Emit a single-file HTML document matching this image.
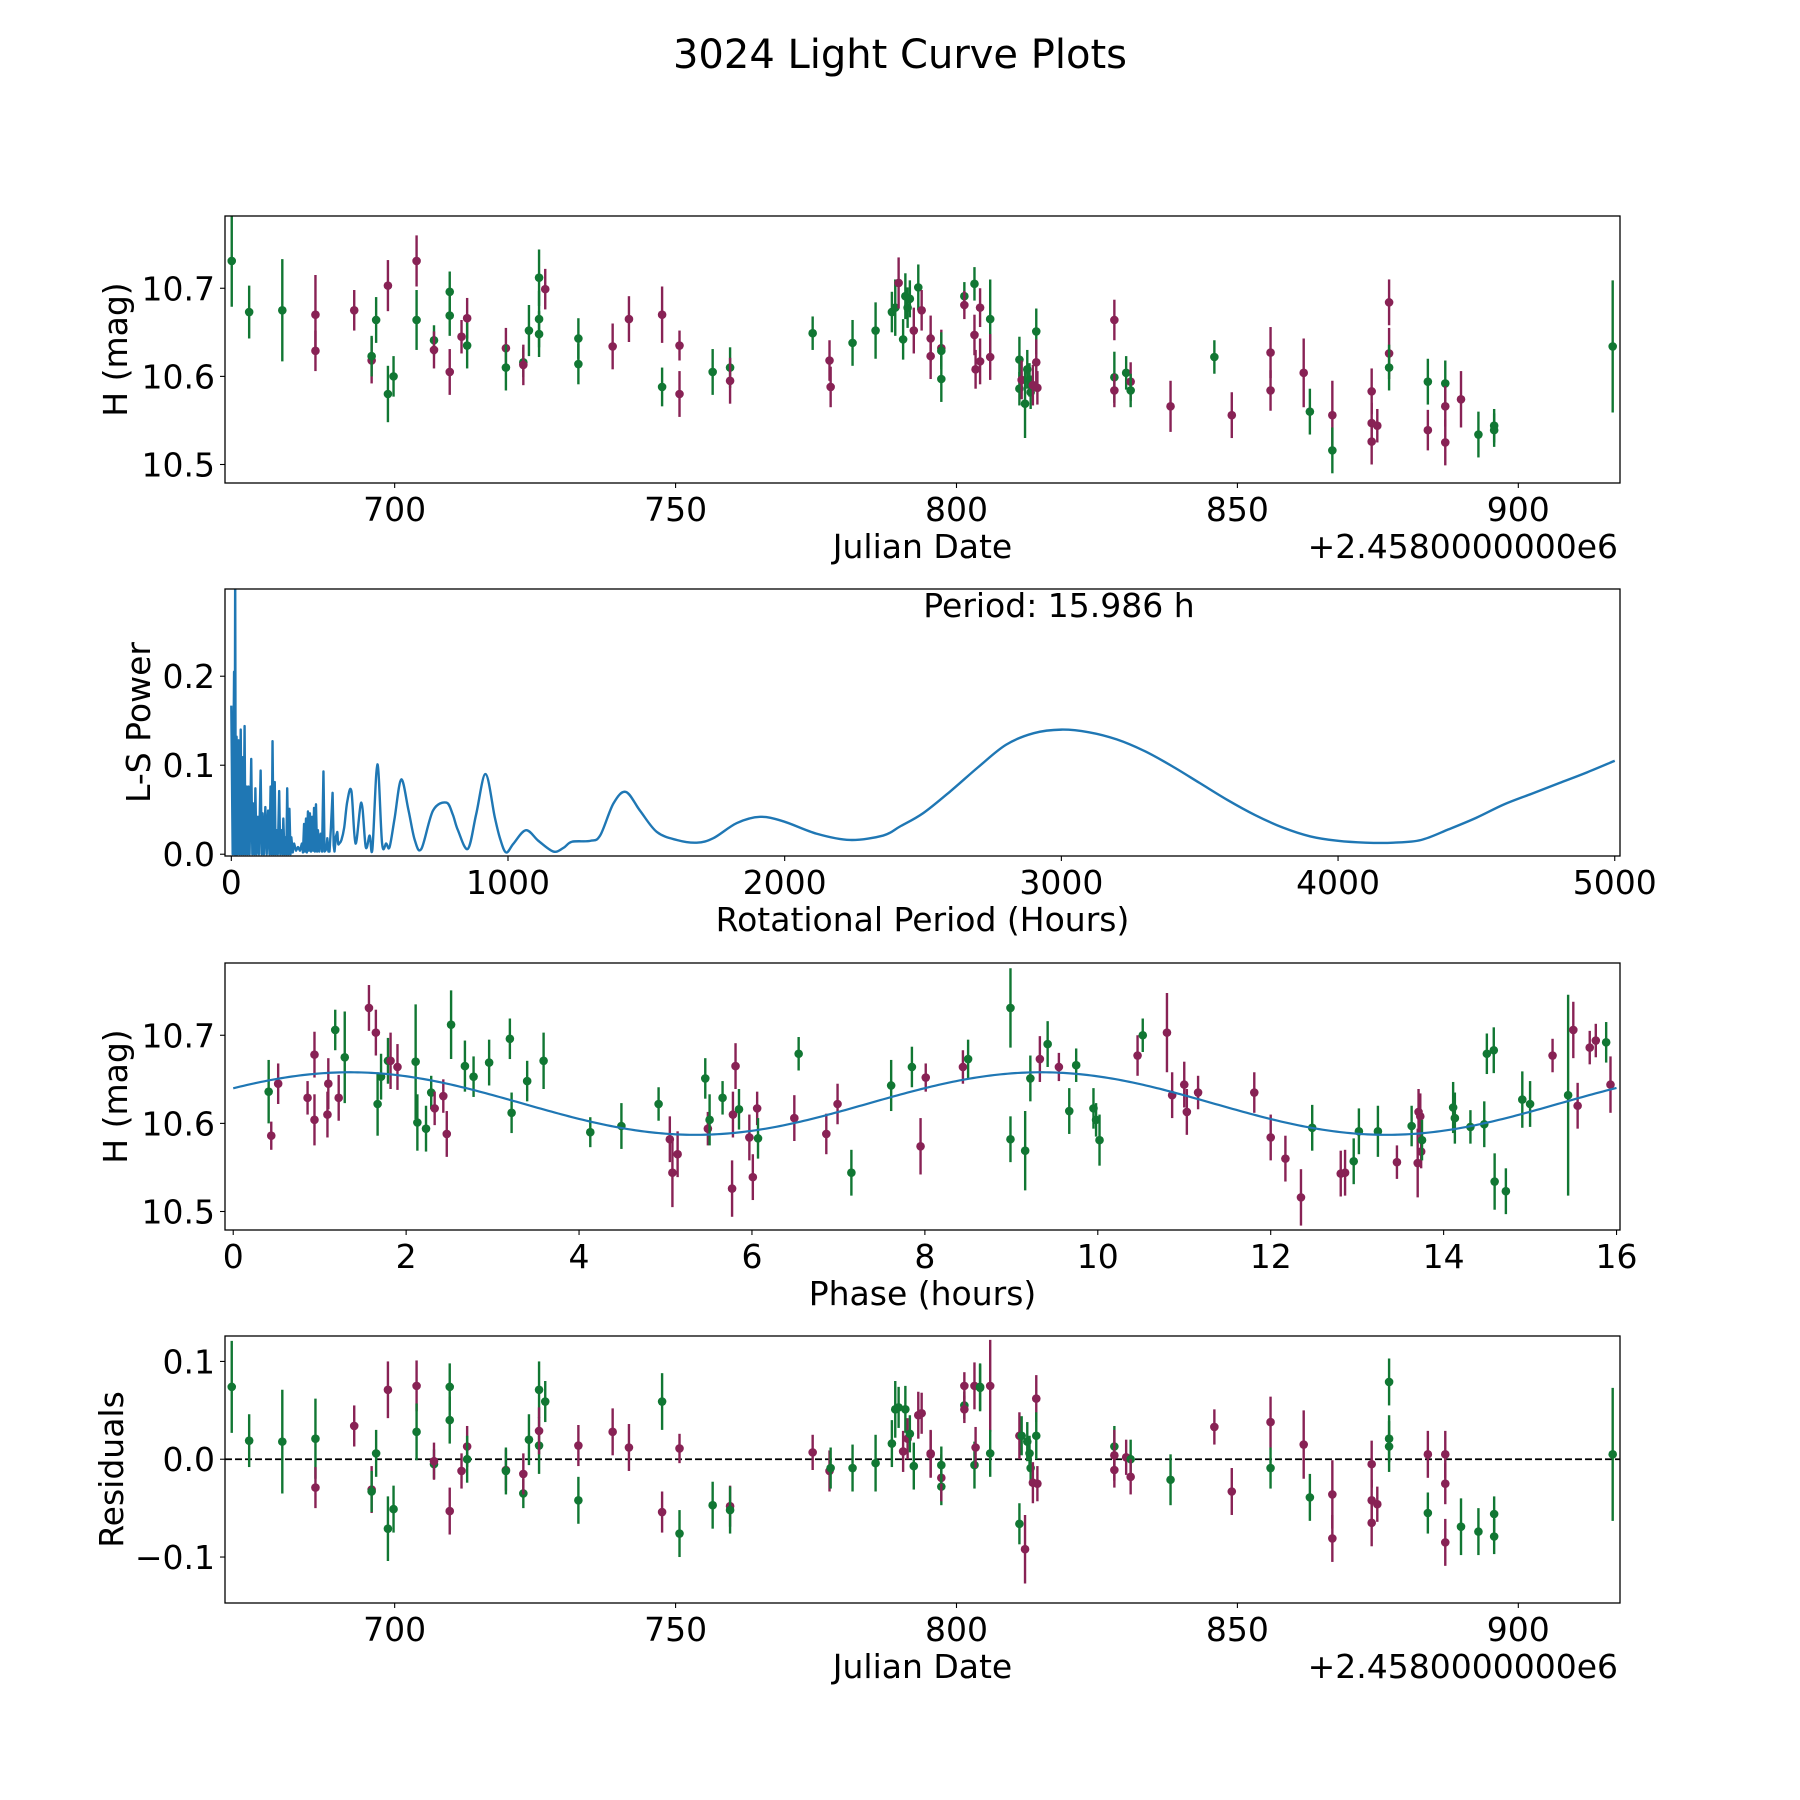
<!DOCTYPE html>
<html><head><meta charset="utf-8">
<style>
html,body{margin:0;padding:0;background:#fff;}
svg{display:block;font-family:"DejaVu Sans","Liberation Sans",sans-serif;}
</style></head>
<body>
<svg id="fig" width="1800" height="1800" viewBox="0 0 1800 1800" xmlns="http://www.w3.org/2000/svg">
<rect x="0" y="0" width="1800" height="1800" fill="#fff"/>
<text x="900" y="68" font-size="40" text-anchor="middle" fill="#000">3024 Light Curve Plots</text>
</svg>
<script>
// ---------- Panel 1: light curve ----------
const lcDates=[671.0,674.1,680.0,685.9,685.9,692.8,695.9,695.9,696.7,698.8,698.8,699.8,703.9,703.9,707.0,707.0,709.8,709.8,709.8,711.9,712.9,712.9,719.8,719.8,722.9,722.9,723.9,725.7,725.7,725.7,726.8,732.7,732.7,738.8,741.7,747.6,747.6,750.7,750.7,756.6,759.7,759.7,774.4,777.4,777.6,781.5,785.6,788.5,789.1,789.7,790.5,790.9,791.3,791.7,792.4,793.2,793.8,795.4,795.4,797.3,797.3,797.3,801.4,801.4,803.2,803.2,803.4,804.2,804.2,806.0,806.0,811.2,811.2,811.6,812.2,812.6,813.0,813.2,813.6,814.2,814.2,814.4,828.1,828.1,828.1,830.2,831.0,831.0,838.1,845.9,849.0,855.9,855.9,861.8,862.9,866.9,866.9,873.9,873.9,873.9,874.9,877.0,877.0,877.0,883.9,883.9,887.0,887.0,887.0,889.8,892.9,895.7,895.7,916.8];
const lcMags=[10.731,10.673,10.675,10.670,10.629,10.675,10.618,10.623,10.664,10.703,10.580,10.600,10.731,10.664,10.641,10.630,10.696,10.669,10.605,10.645,10.666,10.635,10.632,10.610,10.616,10.613,10.652,10.712,10.665,10.648,10.699,10.614,10.643,10.634,10.665,10.670,10.588,10.635,10.580,10.605,10.610,10.595,10.649,10.618,10.588,10.638,10.652,10.673,10.678,10.706,10.642,10.691,10.678,10.688,10.652,10.701,10.675,10.643,10.623,10.632,10.597,10.629,10.691,10.681,10.705,10.647,10.608,10.678,10.617,10.665,10.622,10.619,10.586,10.596,10.569,10.608,10.596,10.582,10.590,10.651,10.616,10.587,10.664,10.599,10.584,10.604,10.594,10.584,10.566,10.622,10.556,10.627,10.584,10.604,10.560,10.556,10.516,10.583,10.526,10.547,10.544,10.684,10.626,10.610,10.594,10.539,10.592,10.566,10.525,10.574,10.534,10.544,10.539,10.634];
const lcErrs=[.052,.030,.058,.045,.023,.023,.026,.023,.026,.029,.032,.023,.029,.034,.017,.021,.023,.023,.026,.019,.023,.026,.023,.026,.017,.023,.029,.032,.032,.026,.023,.023,.023,.026,.026,.032,.022,.017,.026,.026,.023,.026,.019,.023,.023,.026,.032,.023,.032,.029,.023,.026,.023,.021,.026,.026,.023,.026,.026,.021,.026,.021,.016,.016,.019,.023,.022,.022,.026,.045,.026,.026,.019,.022,.039,.022,.019,.019,.023,.026,.026,.019,.023,.029,.019,.019,.022,.019,.029,.019,.026,.029,.023,.039,.026,.039,.026,.026,.026,.023,.019,.026,.029,.026,.026,.023,.026,.023,.026,.032,.026,.019,.019,.075];
const lcBands="gggmmmmggmggmggmggmmmgmggmggggmggmmmgmmggmgmmggggmggggmgmmmmgggmgmmmmgmggmggggmgmmmgmgmgmgmmmmgmgmmmmmmggmgmmmgggggmg";
// ---------- Panel 2: periodogram ----------
const lsPeriods=[0,5,10,12,14,16,19,22,26,30,34,37,41,44,48,51,55,58,62,66,72,76,80,84,87,91,96,100,106,110,113,118,123,128,133,138,142,146,149,153,157,160,164,168,173,177,181,185,188,192,195,199,202,206,210,214,217,222,227,234,241,248,255,259,263,266,270,273,277,280,284,288,292,296,299,302,306,310,313,318,323,328,333,337,340,344,347,351,355,360,366,370,373,378,383,386,390,398,408,419,434,449,470,486,500,510,528,545,560,572,590,614,640,663,687,729,777,800,819,855,885,919,952,971,993,1020,1065,1110,1164,1200,1231,1297,1333,1381,1426,1477,1538,1610,1682,1742,1827,1911,1995,2116,2236,2356,2416,2500,2600,2700,2800,2900,3000,3100,3200,3300,3400,3500,3600,3700,3800,3900,4000,4100,4200,4300,4400,4500,4600,4700,4800,4900,5000];
const lsPowers=[0.167,0.0,0.205,0.0,0.32,0.0,0.132,0.0,0.128,0.0,0.140,0.0,0.109,0.0,0.144,0.0,0.076,0.0,0.076,0.0,0.107,0.0,0.057,0.0,0.074,0.0,0.042,0.0,0.094,0.0,0.046,0.0,0.053,0.0,0.049,0.0,0.076,0.0,0.127,0.0,0.081,0.0,0.027,0.0,0.071,0.0,0.027,0.0,0.040,0.0,0.019,0.0,0.074,0.0,0.051,0.0,0.019,0.002,0.012,0.004,0.008,0.004,0.012,0.002,0.034,0.003,0.040,0.002,0.048,0.004,0.046,0.003,0.042,0.004,0.052,0.003,0.056,0.003,0.027,0.003,0.023,0.003,0.093,0.003,0.004,0.006,0.018,0.003,0.003,0.03,0.069,0.01,0.003,0.02,0.025,0.012,0.012,0.016,0.03,0.059,0.071,0.012,0.058,0.008,0.021,0.006,0.101,0.012,0.012,0.008,0.04,0.084,0.05,0.016,0.006,0.049,0.058,0.045,0.027,0.006,0.045,0.090,0.042,0.018,0.002,0.012,0.027,0.015,0.003,0.007,0.014,0.015,0.021,0.057,0.070,0.049,0.025,0.016,0.013,0.018,0.035,0.042,0.037,0.023,0.016,0.021,0.031,0.046,0.071,0.098,0.123,0.136,0.140,0.137,0.129,0.116,0.099,0.080,0.061,0.044,0.030,0.020,0.015,0.013,0.013,0.016,0.028,0.041,0.056,0.068,0.080,0.092,0.105];
const periodText="Period: 15.986 h";
// ---------- Panel 3: phased light curve ----------
const phHours=[0.41,0.44,0.52,0.86,0.94,0.94,1.09,1.10,1.18,1.22,1.29,1.57,1.65,1.67,1.71,1.79,1.82,1.90,2.11,2.13,2.23,2.29,2.33,2.43,2.47,2.52,2.68,2.78,2.96,3.20,3.22,3.40,3.59,4.13,4.49,4.92,5.05,5.08,5.14,5.46,5.49,5.51,5.66,5.77,5.78,5.81,5.85,5.97,6.01,6.06,6.07,6.49,6.54,6.86,6.99,7.15,7.61,7.85,7.95,8.01,8.44,8.50,8.99,8.99,9.16,9.22,9.33,9.42,9.55,9.67,9.75,9.95,9.98,10.02,10.46,10.52,10.80,10.86,11.00,11.03,11.16,11.81,12.00,12.17,12.35,12.48,12.81,12.86,12.96,13.02,13.24,13.46,13.63,13.70,13.71,13.73,13.74,13.75,14.11,14.13,14.31,14.47,14.50,14.58,14.59,14.72,14.91,15.00,15.26,15.44,15.50,15.55,15.69,15.76,15.88,15.93];
const phMags=[10.636,10.586,10.645,10.629,10.678,10.604,10.610,10.645,10.706,10.629,10.675,10.731,10.703,10.622,10.653,10.671,10.671,10.664,10.670,10.601,10.594,10.635,10.617,10.631,10.588,10.712,10.665,10.653,10.669,10.696,10.612,10.648,10.671,10.590,10.597,10.622,10.582,10.544,10.565,10.651,10.594,10.604,10.629,10.526,10.610,10.665,10.616,10.584,10.539,10.617,10.583,10.606,10.679,10.588,10.622,10.544,10.643,10.664,10.574,10.652,10.664,10.673,10.731,10.582,10.569,10.651,10.673,10.690,10.664,10.614,10.666,10.617,10.604,10.581,10.677,10.700,10.703,10.632,10.644,10.613,10.635,10.635,10.584,10.560,10.516,10.595,10.543,10.544,10.557,10.591,10.591,10.556,10.597,10.555,10.613,10.608,10.568,10.581,10.618,10.606,10.596,10.599,10.679,10.683,10.534,10.523,10.627,10.622,10.677,10.632,10.706,10.620,10.686,10.694,10.692,10.644];
const phErrs=[.036,.016,.023,.019,.026,.029,.026,.029,.023,.026,.052,.026,.026,.036,.026,.026,.032,.026,.065,.032,.026,.019,.019,.019,.026,.039,.029,.023,.026,.023,.023,.023,.032,.017,.026,.019,.026,.039,.026,.023,.019,.029,.019,.032,.026,.026,.023,.026,.026,.019,.023,.026,.019,.023,.023,.026,.029,.023,.032,.016,.019,.022,.045,.026,.045,.026,.026,.026,.016,.026,.019,.023,.019,.029,.023,.019,.045,.026,.026,.026,.019,.023,.026,.026,.032,.026,.026,.026,.026,.026,.029,.019,.023,.039,.026,.026,.019,.023,.029,.029,.019,.026,.023,.026,.032,.026,.032,.026,.019,.114,.032,.026,.019,.019,.023,.032];
const phBands="gmmmmmmmgmgmmgggmmggggmmmgggggggggggmmmgmggmmmgmmmgmgmmgggmmmgggggmgmgggggmgmmmmmmmmmgmmgggmgmmmmgggggggggggmgmmmmgm";
const fitMean=[10.6225];
const fitAmp=[0.0355];
const fitPeak=[1.35];
const fitPeriod=[7.993];
// ---------- Panel 4: residuals ----------
const resDates=[671.0,674.1,680.0,685.9,685.9,692.8,695.9,695.9,696.7,698.8,698.8,699.8,703.9,703.9,707.0,707.0,709.8,709.8,709.8,711.9,712.9,712.9,719.8,719.8,722.9,722.9,723.9,725.7,725.7,725.7,726.8,732.7,732.7,738.8,741.7,747.6,747.6,750.7,750.7,756.6,759.7,759.7,774.4,777.4,777.6,781.5,785.6,788.5,789.1,789.7,790.5,790.9,791.3,791.7,792.4,793.2,793.8,795.4,795.4,797.3,797.3,797.3,801.4,801.4,801.4,803.2,803.2,803.4,804.2,804.2,806.0,806.0,811.2,811.2,811.6,812.2,812.6,813.0,813.2,813.6,814.2,814.2,814.4,828.1,828.1,828.1,830.2,831.0,831.0,838.1,845.9,849.0,855.9,855.9,861.8,862.9,866.9,866.9,873.9,873.9,873.9,874.9,877.0,877.0,877.0,883.9,883.9,887.0,887.0,887.0,889.8,892.9,895.7,895.7,916.8];
const resVals=[.074,.019,.018,.021,-.029,.034,-.031,-.033,.006,.071,-.071,-.051,.075,.028,-.005,-.002,.074,.040,-.053,-.012,.013,0,-.011,-.012,-.035,-.015,.020,.071,.014,.029,.059,-.042,.014,.028,.012,.059,-.054,.011,-.076,-.047,-.048,-.052,.007,-.012,-.009,-.009,-.004,.016,.051,.053,.008,.051,.021,.026,-.007,.045,.047,.005,.006,-.028,-.019,-.006,.055,.051,.075,.075,-.006,.012,.074,.073,.075,.006,.024,-.066,.024,-.092,.018,.006,-.009,-.024,.062,.024,-.025,.013,.004,-.011,.002,0,-.018,-.021,.033,-.033,.038,-.009,.015,-.039,-.036,-.081,-.005,-.065,-.042,-.046,.079,.013,.021,.005,-.055,.005,-.025,-.085,-.069,-.074,-.079,-.056,.005];
const resErrs=[.047,.027,.053,.041,.021,.021,.024,.021,.024,.029,.033,.024,.026,.029,.015,.019,.024,.024,.024,.018,.021,.024,.021,.024,.015,.021,.026,.029,.029,.024,.021,.024,.021,.024,.024,.029,.021,.015,.024,.024,.021,.024,.018,.021,.021,.024,.029,.024,.029,.021,.021,.024,.021,.019,.024,.024,.021,.024,.024,.019,.024,.019,.014,.014,.014,.024,.024,.021,.024,.024,.047,.024,.024,.021,.020,.035,.020,.018,.018,.021,.024,.024,.018,.021,.026,.018,.018,.020,.018,.026,.018,.024,.026,.021,.035,.024,.035,.024,.024,.024,.021,.018,.024,.026,.024,.024,.021,.024,.021,.024,.029,.024,.018,.018,.068];
const resBands="ggggmmmggmggmggmggmmmgmggmgggmggmmmgmmggmgmmggggggmgmggmmmmgmggmmmgmggmgmggmgggmmgmgmmmgmgmmmgmgmmmmmmgggmgmmmgggggmg";
// ---------- Tick labels ----------
const dateTicks=[700,750,800,850,900];
const magTicks=[10.5,10.6,10.7];
const lsXTicks=[0,1000,2000,3000,4000,5000];
const lsYTicks=[0,0.1,0.2];
const phXTicks=[0,2,4,6,8,10,12,14,16];
const resTicks=[-0.1,0,0.1];

const NS="http://www.w3.org/2000/svg";
const svg=document.getElementById('fig');
const COL={g:'#117733',m:'#882255'};
const FS=33;
function mk(tag,attrs,parent){const e=document.createElementNS(NS,tag);for(const k in attrs)e.setAttribute(k,attrs[k]);(parent||svg).appendChild(e);return e;}
function scale(d0,d1,p0,p1){return v=>p0+(v-d0)/(d1-d0)*(p1-p0);}
const L=225,R=1620,H=267;
const tops=[216,589,963,1336];
function fmt(v,dec){let s=v.toFixed(dec);if(v<0)s='\u2212'+s.slice(1);return s;}

function panel(idx,name,xd,yd,xt,yt,xdec,ydec,xlabel,ylabel,ylabX,offset){
  const top=tops[idx],bot=top+H;
  const g=mk('g',{});
  
  
  const sx=scale(xd[0],xd[1],L,R), sy=scale(yd[0],yd[1],bot,top);
  const tg=mk('g',{},g);
  
  
  xt.forEach(v=>{const x=sx(v);
    const l=mk('line',{x1:x,x2:x,y1:bot,y2:bot+5,stroke:'#000','stroke-width':1.1},tg);
    
    
    const t=mk('text',{x:x,y:bot+38,'font-size':FS,'text-anchor':'middle'},tg);t.textContent=fmt(v,xdec);
    
    
  });
  yt.forEach(v=>{const y=sy(v);
    const l=mk('line',{x1:L-5,x2:L,y1:y,y2:y,stroke:'#000','stroke-width':1.1},tg);
    
    
    const t=mk('text',{x:L-10,y:y+12,'font-size':FS,'text-anchor':'end'},tg);t.textContent=fmt(v,ydec);
    
    
  });
  const xl=mk('text',{x:(L+R)/2,y:bot+75,'font-size':FS,'text-anchor':'middle'},g);xl.textContent=xlabel;
  
  
  const cy=(top+bot)/2;
  const yl=mk('text',{x:ylabX,y:cy,'font-size':FS,'text-anchor':'middle',transform:`rotate(-90 ${ylabX} ${cy})`},g);yl.textContent=ylabel;
  
  
  if(offset){const o=mk('text',{x:R-2,y:bot+75,'font-size':FS,'text-anchor':'end'},g);o.textContent=offset;
    
    }
  const cid='clip'+idx;
  const cp=mk('clipPath',{id:cid},g);mk('rect',{x:L,y:top,width:R-L,height:H},cp);
  const plot=mk('g',{'clip-path':`url(#${cid})`},g);
  
  
  const frame=mk('rect',{x:L,y:top,width:R-L,height:H,fill:'none',stroke:'#000','stroke-width':1.3},g);
  
  
  return {sx,sy,plot,frame,g};
}
function errPoints(P,xs,ys,es,bands,nm){
  const n=Math.min(xs.length,ys.length,es.length,bands.length);
  for(let i=0;i<n;i++){
    const c=COL[bands[i]]||COL.g;const x=P.sx(xs[i]);
    const b=mk('line',{x1:x,x2:x,y1:P.sy(ys[i]-es[i]),y2:P.sy(ys[i]+es[i]),stroke:c,'stroke-width':2.4},P.plot);
    
    
    const d=mk('circle',{cx:x,cy:P.sy(ys[i]),r:4.3,fill:c},P.plot);
    
    
  }
}
// Panel 1
const P1=panel(0,'light-curve-panel',[669.8,918.1],[10.479,10.782],dateTicks,magTicks,0,1,'Julian Date','H (mag)',127,'+2.4580000000e6');
errPoints(P1,lcDates,lcMags,lcErrs,lcBands,'light-curve');
// Panel 2
const P2=panel(1,'periodogram-panel',[-22.8,5019],[-0.002,0.298],lsXTicks,lsYTicks,0,1,'Rotational Period (Hours)','L-S Power',150,null);
{const n=Math.min(lsPeriods.length,lsPowers.length);
 const pts=[];for(let i=0;i<n;i++)pts.push([P2.sx(lsPeriods[i]),P2.sy(lsPowers[i]),lsPeriods[i]]);
 let d='M'+pts[0][0].toFixed(2)+' '+pts[0][1].toFixed(2);
 for(let i=1;i<n;i++){
   const p1=pts[i-1],p2=pts[i];
   if(p1[2]<380){d+='L'+p2[0].toFixed(2)+' '+p2[1].toFixed(2);continue;}
   const p0=pts[Math.max(0,i-2)],p3=pts[Math.min(n-1,i+1)];
   const c1x=p1[0]+(p2[0]-p0[0])/6,c1y=p1[1]+(p2[1]-p0[1])/6;
   const c2x=p2[0]-(p3[0]-p1[0])/6,c2y=p2[1]-(p3[1]-p1[1])/6;
   d+='C'+c1x.toFixed(2)+' '+c1y.toFixed(2)+' '+c2x.toFixed(2)+' '+c2y.toFixed(2)+' '+p2[0].toFixed(2)+' '+p2[1].toFixed(2);
 }
 const p=mk('path',{d:d,fill:'none',stroke:'#1f77b4','stroke-width':2.4,'stroke-linejoin':'round'},P2.plot);
 
 
 const t=mk('text',{x:1059,y:617,'font-size':FS,'text-anchor':'middle'},P2.g);t.textContent=periodText;
 
 }
// Panel 3
const P3=panel(2,'phase-panel',[-0.095,16.04],[10.479,10.782],phXTicks,magTicks,0,1,'Phase (hours)','H (mag)',127,null);
errPoints(P3,phHours,phMags,phErrs,phBands,'phase');
{let d='';for(let i=0;i<=400;i++){const ph=i*16/400;const m=fitMean[0]+fitAmp[0]*Math.cos(2*Math.PI*(ph-fitPeak[0])/fitPeriod[0]);d+=(i?'L':'M')+P3.sx(ph).toFixed(2)+' '+P3.sy(m).toFixed(2);}
 const p=mk('path',{d:d,fill:'none',stroke:'#1f77b4','stroke-width':2.2},P3.plot);
 
 }
// Panel 4
const P4=panel(3,'residuals-panel',[669.8,918.1],[-0.147,0.126],dateTicks,resTicks,0,1,'Julian Date','Residuals',123,'+2.4580000000e6');
{const z=P4.sy(0);const l=mk('line',{x1:L,x2:R,y1:z,y2:z,stroke:'#000','stroke-width':1.8,'stroke-dasharray':'7,3'},P4.plot);
 
 }
errPoints(P4,resDates,resVals,resErrs,resBands,'residual');
</script>
</body></html>
